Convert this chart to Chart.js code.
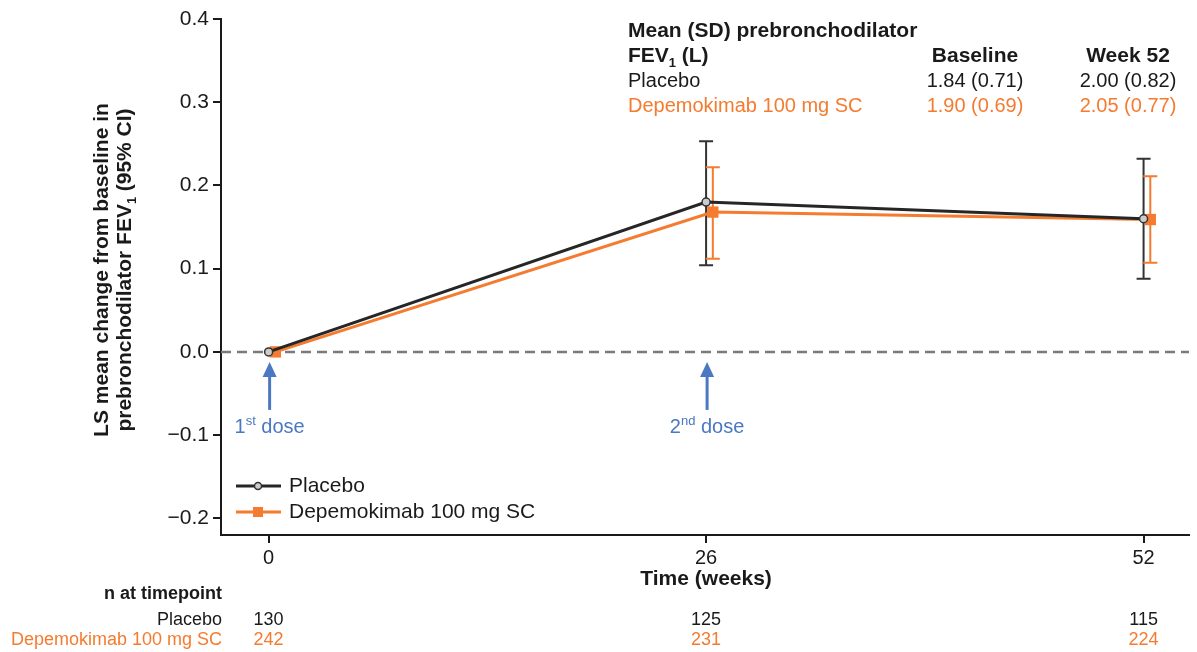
<!DOCTYPE html>
<html>
<head>
<meta charset="utf-8">
<script src="https://cdn.jsdelivr.net/npm/chart.js@4"></script>
<style>
  html, body { margin: 0; padding: 0; background: #fff; }
  #wrap { width: 1197px; height: 652px; }
</style>
</head>
<body>
<div id="wrap"><canvas id="myChart" width="1197" height="652"></canvas></div>
<script>
// Data
const weeks = [0, 26, 52];
const placeboMean = [0, 0.180, 0.160];
const placeboLower = [null, 0.104, 0.088];
const placeboUpper = [null, 0.253, 0.232];
const depemoMean = [0, 0.168, 0.159];
const depemoLower = [null, 0.112, 0.107];
const depemoUpper = [null, 0.222, 0.211];

const yTicks = [-0.2, -0.1, 0.0, 0.1, 0.2, 0.3, 0.4];

const nPlacebo = [130, 125, 115];
const nDepemo = [242, 231, 224];

const tableHeaders = ["Baseline", "Week 52"];
const tablePlacebo = ["1.84 (0.71)", "2.00 (0.82)"];
const tableDepemo = ["1.90 (0.69)", "2.05 (0.77)"];

const doseWeeks = [0, 26];
const doseLabels = [["1", "st", " dose"], ["2", "nd", " dose"]];

const seriesNames = ["Placebo", "Depemokimab 100 mg SC"];

const BLACK = "#262626";
const ORANGE = "#f47b2f";
const BLUE = "#4a78c2";
const DODGE = 0.4; // horizontal shift of the active arm
const FONT = "'Liberation Sans', Arial, sans-serif";

function toPoints(xs, ys, shift) {
    return xs.map((x, i) => ({ x: x + shift, y: ys[i] }));
}

// error bars drawn through the scales
const errorBars = {
    id: "errorBars",
    beforeDatasetsDraw(chart) {
        const { ctx, scales } = chart;
        const sets = [
            { lo: placeboLower, hi: placeboUpper, color: "#333", shift: 0 },
            { lo: depemoLower, hi: depemoUpper, color: ORANGE, shift: DODGE },
        ];
        ctx.save();
        sets.forEach((s) => {
            ctx.strokeStyle = s.color;
            ctx.lineWidth = 2;
            weeks.forEach((w, i) => {
                if (s.lo[i] === null) return;
                const x = scales.x.getPixelForValue(w + s.shift);
                const y1 = scales.y.getPixelForValue(s.lo[i]);
                const y2 = scales.y.getPixelForValue(s.hi[i]);
                ctx.beginPath();
                ctx.moveTo(x, y1);
                ctx.lineTo(x, y2);
                ctx.moveTo(x - 7, y1);
                ctx.lineTo(x + 7, y1);
                ctx.moveTo(x - 7, y2);
                ctx.lineTo(x + 7, y2);
                ctx.stroke();
            });
        });
        ctx.restore();
    },
};

// zero line, annotations, legend, table and n-at-risk rows
const extras = {
    id: "extras",
    beforeDatasetsDraw(chart) {
        const { ctx, chartArea, scales } = chart;
        const y0 = scales.y.getPixelForValue(0);
        ctx.save();
        ctx.strokeStyle = "#7a7a7a";
        ctx.lineWidth = 2.5;
        ctx.setLineDash([10, 6]);
        ctx.beginPath();
        ctx.moveTo(chartArea.left, y0);
        ctx.lineTo(chartArea.right, y0);
        ctx.stroke();
        ctx.restore();
    },
    afterDraw(chart) {
        const { ctx, chartArea, scales } = chart;
        const xs = scales.x;
        const y0 = scales.y.getPixelForValue(0);
        ctx.save();

        // dose arrows
        ctx.fillStyle = BLUE;
        ctx.strokeStyle = BLUE;
        ctx.lineWidth = 3;
        doseWeeks.forEach((w, i) => {
            const x = xs.getPixelForValue(w) + 1;
            ctx.beginPath();
            ctx.moveTo(x, y0 + 58);
            ctx.lineTo(x, y0 + 22);
            ctx.stroke();
            ctx.beginPath();
            ctx.moveTo(x, y0 + 10);
            ctx.lineTo(x - 7, y0 + 25);
            ctx.lineTo(x + 7, y0 + 25);
            ctx.closePath();
            ctx.fill();

            const [a, sup, b] = doseLabels[i];
            ctx.font = "20px " + FONT;
            const wa = ctx.measureText(a).width;
            const wb = ctx.measureText(b).width;
            ctx.font = "13px " + FONT;
            const ws = ctx.measureText(sup).width;
            let left = x - (wa + ws + wb) / 2;
            const ty = y0 + 81;
            ctx.textBaseline = "alphabetic";
            ctx.textAlign = "left";
            ctx.font = "20px " + FONT;
            ctx.fillText(a, left, ty);
            ctx.font = "13px " + FONT;
            ctx.fillText(sup, left + wa, ty - 8);
            ctx.font = "20px " + FONT;
            ctx.fillText(b, left + wa + ws, ty);
        });

        // legend
        const lx = chartArea.left + 15;
        const legendRows = [
            { y: 486, color: BLACK, name: seriesNames[0], marker: "circle" },
            { y: 512, color: ORANGE, name: seriesNames[1], marker: "rect" },
        ];
        legendRows.forEach((r) => {
            ctx.strokeStyle = r.color;
            ctx.lineWidth = 3;
            ctx.beginPath();
            ctx.moveTo(lx, r.y);
            ctx.lineTo(lx + 45, r.y);
            ctx.stroke();
            if (r.marker === "circle") {
                ctx.fillStyle = "#ccc";
                ctx.strokeStyle = "#333";
                ctx.lineWidth = 1.5;
                ctx.beginPath();
                ctx.arc(lx + 22, r.y, 3.5, 0, Math.PI * 2);
                ctx.fill();
                ctx.stroke();
            } else {
                ctx.fillStyle = ORANGE;
                ctx.fillRect(lx + 17, r.y - 5, 10, 10);
            }
            ctx.fillStyle = "#1a1a1a";
            ctx.font = "21px " + FONT;
            ctx.textAlign = "left";
            ctx.textBaseline = "middle";
            ctx.fillText(r.name, lx + 53, r.y);
        });

        // table top right
        ctx.textBaseline = "alphabetic";
        ctx.fillStyle = "#1a1a1a";
        ctx.font = "bold 21px " + FONT;
        ctx.textAlign = "left";
        ctx.fillText("Mean (SD) prebronchodilator", 628, 37);
        ctx.fillText("FEV", 628, 62);
        const wf = ctx.measureText("FEV").width;
        ctx.font = "bold 13px " + FONT;
        ctx.fillText("1", 628 + wf, 67);
        ctx.font = "bold 21px " + FONT;
        ctx.fillText(" (L)", 628 + wf + 7, 62);
        const colX = [975, 1128];
        ctx.textAlign = "center";
        tableHeaders.forEach((h, i) => ctx.fillText(h, colX[i], 62));
        ctx.font = "20px " + FONT;
        ctx.textAlign = "left";
        ctx.fillText(seriesNames[0], 628, 87);
        ctx.textAlign = "center";
        tablePlacebo.forEach((t, i) => ctx.fillText(t, colX[i], 87));
        ctx.fillStyle = ORANGE;
        ctx.textAlign = "left";
        ctx.fillText(seriesNames[1], 628, 112);
        ctx.textAlign = "center";
        tableDepemo.forEach((t, i) => ctx.fillText(t, colX[i], 112));

        // x axis title
        ctx.fillStyle = "#1a1a1a";
        ctx.font = "bold 21px " + FONT;
        ctx.textAlign = "center";
        ctx.fillText("Time (weeks)", xs.getPixelForValue(26), 585);

        // y axis title
        ctx.save();
        ctx.translate(112, 270);
        ctx.rotate(-Math.PI / 2);
        ctx.font = "bold 21px " + FONT;
        ctx.textAlign = "center";
        ctx.fillText("LS mean change from baseline in", 0, -4);
        const l2a = "prebronchodilator FEV";
        const l2b = " (95% CI)";
        const w2a = ctx.measureText(l2a).width;
        const w2b = ctx.measureText(l2b).width;
        const total = w2a + 7 + w2b;
        ctx.textAlign = "left";
        ctx.fillText(l2a, -total / 2, 19);
        ctx.font = "bold 13px " + FONT;
        ctx.fillText("1", -total / 2 + w2a, 24);
        ctx.font = "bold 21px " + FONT;
        ctx.fillText(l2b, -total / 2 + w2a + 7, 19);
        ctx.restore();

        // n at timepoint
        ctx.font = "bold 18px " + FONT;
        ctx.textAlign = "right";
        ctx.fillStyle = "#1a1a1a";
        ctx.fillText("n at timepoint", 222, 599);
        ctx.font = "18px " + FONT;
        ctx.fillText(seriesNames[0], 222, 625);
        ctx.textAlign = "center";
        weeks.forEach((w, i) => ctx.fillText(String(nPlacebo[i]), xs.getPixelForValue(w), 625));
        ctx.fillStyle = ORANGE;
        ctx.textAlign = "right";
        ctx.fillText(seriesNames[1], 222, 645);
        ctx.textAlign = "center";
        weeks.forEach((w, i) => ctx.fillText(String(nDepemo[i]), xs.getPixelForValue(w), 645));

        ctx.restore();
    },
};

const ctx = document.getElementById("myChart").getContext("2d");
new Chart(ctx, {
    type: "line",
    data: {
        datasets: [
            {
                label: seriesNames[0],
                data: toPoints(weeks, placeboMean, 0),
                borderColor: BLACK,
                borderWidth: 3,
                pointStyle: "circle",
                pointRadius: 4,
                pointBackgroundColor: "#ccc",
                pointBorderColor: "#333",
                pointBorderWidth: 1.5,
                tension: 0,
            },
            {
                label: seriesNames[1],
                data: toPoints(weeks, depemoMean, DODGE),
                borderColor: ORANGE,
                borderWidth: 3,
                pointStyle: "rect",
                pointRadius: 8,
                pointBackgroundColor: ORANGE,
                pointBorderColor: ORANGE,
                pointBorderWidth: 0,
                tension: 0,
            },
        ],
    },
    options: {
        responsive: false,
        animation: false,
        layout: { padding: { top: 19, right: 2, left: 0, bottom: 0 } },
        plugins: {
            legend: { display: false },
            tooltip: { enabled: false },
        },
        scales: {
            x: {
                type: "linear",
                min: -2.83,
                max: 54.7,
                afterBuildTicks: (scale) => {
                    scale.ticks = weeks.map((v) => ({ value: v }));
                },
                afterFit: (scale) => {
                    scale.height = 117;
                },
                border: { display: true, color: "#1a1a1a", width: 2 },
                grid: {
                    drawOnChartArea: false,
                    drawTicks: true,
                    tickLength: 8,
                    color: "#1a1a1a",
                    lineWidth: 2,
                },
                ticks: {
                    color: "#1a1a1a",
                    font: { family: FONT, size: 20 },
                    padding: 3,
                    maxRotation: 0,
                },
            },
            y: {
                min: -0.22,
                max: 0.4,
                afterBuildTicks: (scale) => {
                    scale.ticks = yTicks.map((v) => ({ value: v }));
                },
                afterFit: (scale) => {
                    scale.width = 221;
                },
                border: { display: true, color: "#1a1a1a", width: 2 },
                grid: {
                    drawOnChartArea: false,
                    drawTicks: true,
                    tickLength: 8,
                    color: "#1a1a1a",
                    lineWidth: 2,
                },
                ticks: {
                    color: "#1a1a1a",
                    font: { family: FONT, size: 21 },
                    padding: 4,
                    callback: (v) => (v < 0 ? "\u2212" + Math.abs(v).toFixed(1) : v.toFixed(1)),
                },
            },
        },
    },
    plugins: [errorBars, extras],
});
</script>
</body>
</html>
